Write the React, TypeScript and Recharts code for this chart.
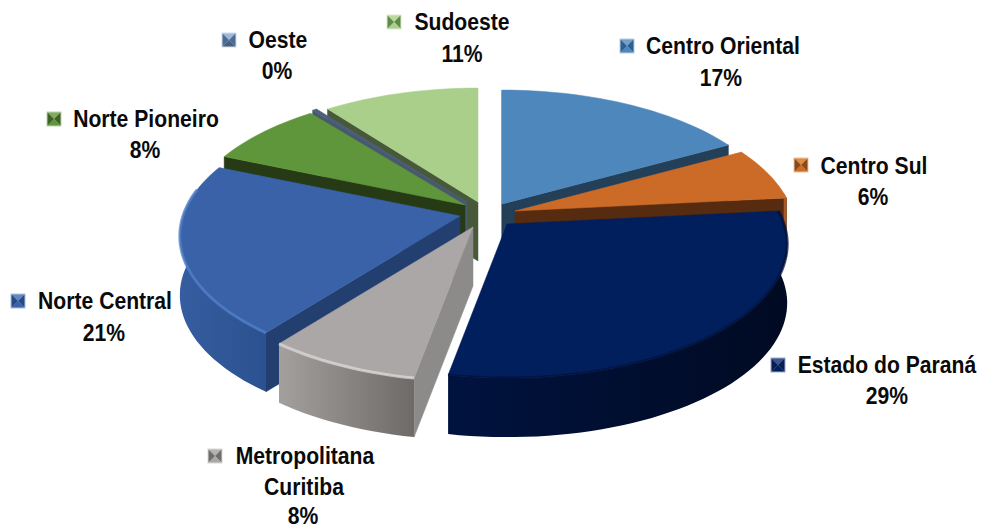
import React from "react";
import { PieChart, Pie } from "recharts";

const names = [
  "Centro Oriental",
  "Centro Sul",
  "Estado do Paraná",
  "Metropolitana Curitiba",
  "Norte Central",
  "Norte Pioneiro",
  "Oeste",
  "Sudoeste",
];
const values = [17, 6.4, 29.5, 7.7, 20.8, 7.9, 0.3, 10.4];
const percentLabels = ["17%", "6%", "29%", "8%", "21%", "8%", "0%", "11%"];

const data = names.map((name, i) => ({ name, value: values[i] }));

// back to front, the slices overlap each other
const drawOrder = [0, 7, 6, 5, 1, 4, 3, 2];

const CX = 490;
const CY = 215;
const RADIUS = 277;
const DEPTH = 59;
const TILT = 0.473;
const PERSPECTIVE = 0.15;

// explode offset of every slice tip from the pie centre
const explode = [
  [12, -11],
  [25, -4],
  [17, 9],
  [-17, 12],
  [-30, 1],
  [-25, -10],
  [-23, -13],
  [-12, -13],
];

const topColors = ["#4d87bb", "#cc6b27", "#011e5d", "#aba7a6", "#3a62a8", "#5f963b", "#4a6078", "#a9cf8b"];
const cutColors = ["#243f58", "#562b0f", "#01143f", "#8c8b8a", "#233f70", "#263a15", "#47586f", "#48593a"];
const wallFrom = ["#3f6f9a", "#a85820", "#00133f", "#a3a09e", "#355da0", "#4d7a30", "#3d5063", "#8aa971"];
const wallTo = ["#3f6f9a", "#a85820", "#000a22", "#6e6a68", "#2c5190", "#4d7a30", "#3d5063", "#8aa971"];
const rimColors = ["none", "none", "#01113a", "#dcdad8", "#4f7fc8", "none", "none", "none"];
const keyTop = ["#6f9fca", "#e08a45", "#3a5590", "#b5b3b2", "#6386c2", "#7faa5f", "#9db9d8", "#b8d8a0"];
const keySide = ["#2f5f8c", "#8a4a18", "#071f55", "#6f6d6c", "#274a85", "#3c6324", "#4a6c94", "#5e8a45"];

// legend key position, then centre x and centre y of each text line
const labelLayout = [
  { key: [627, 46], lines: [[723, 46], [721, 78]] },
  { key: [801, 165], lines: [[874, 166], [873, 197]] },
  { key: [778, 365], lines: [[887, 365], [887, 396]] },
  { key: [215, 456], lines: [[305, 456], [304, 487], [303, 516]] },
  { key: [18, 301], lines: [[105, 301], [104, 333]] },
  { key: [54, 119], lines: [[146, 119], [145, 150]] },
  { key: [229, 40], lines: [[278, 40], [277, 71]] },
  { key: [394, 22], lines: [[462, 22], [462, 54]] },
];

function project(ox: number, oy: number, deg: number) {
  const rad = (deg * Math.PI) / 180;
  const u = Math.sin(rad);
  const v = -Math.cos(rad);
  const p = 1 / (1 - v * PERSPECTIVE);
  return [ox + RADIUS * u * p, oy + RADIUS * TILT * v * p];
}

function arcPoints(ox: number, oy: number, from: number, to: number) {
  const pts: number[][] = [];
  const steps = Math.max(2, Math.ceil((to - from) / 2));
  for (let i = 0; i <= steps; i++) {
    pts.push(project(ox, oy, from + ((to - from) * i) / steps));
  }
  return pts;
}

const toPath = (pts: number[][]) =>
  pts.map((p, i) => `${i ? "L" : "M"}${p[0].toFixed(1)},${p[1].toFixed(1)}`).join("");

function cutFace(tip: number[], rim: number[], inner: number[], color: string) {
  const ex = rim[0] - tip[0];
  const ey = rim[1] - tip[1];
  // the extruded side shows only when "down" leads away from the slice
  const down = ex * DEPTH;
  const side = ex * (inner[1] - tip[1]) - ey * (inner[0] - tip[0]);
  if (down * side > 0) return null;
  const d = toPath([tip, rim, [rim[0], rim[1] + DEPTH], [tip[0], tip[1] + DEPTH]]) + "Z";
  return <path d={d} fill={color} stroke={color} strokeWidth={0.5} />;
}

function Slice3D(props: any) {
  const i = names.indexOf(props.name);
  const from = 90 - props.startAngle;
  const to = 90 - props.endAngle;
  const ox = props.cx + explode[i][0];
  const oy = props.cy + explode[i][1];
  const tip = [ox, oy];
  const rim = arcPoints(ox, oy, from, to);
  const mid = project(ox, oy, (from + to) / 2);

  const wallStart = Math.max(from, 82);
  const wallEnd = Math.min(to, 282);
  const wall = wallStart < wallEnd ? arcPoints(ox, oy, wallStart, wallEnd) : null;
  const gradId = `wall-${i}`;

  return (
    <g>
      <defs>
        <linearGradient id={gradId} x1="0" y1="0" x2="1" y2="0">
          <stop offset="0" stopColor={wallFrom[i]} />
          <stop offset="1" stopColor={wallTo[i]} />
        </linearGradient>
      </defs>
      {cutFace(tip, rim[0], mid, cutColors[i])}
      {cutFace(tip, rim[rim.length - 1], mid, cutColors[i])}
      {wall && (
        <path
          d={
            toPath([
              ...wall,
              ...wall.slice().reverse().map((p) => [p[0], p[1] + DEPTH]),
            ]) + "Z"
          }
          fill={`url(#${gradId})`}
        />
      )}
      <path d={toPath([tip, ...rim]) + "Z"} fill={topColors[i]} stroke={topColors[i]} strokeWidth={0.5} />
      {wall && rimColors[i] !== "none" && (
        <path d={toPath(wall)} fill="none" stroke={rimColors[i]} strokeWidth={3} strokeOpacity={0.75} />
      )}
    </g>
  );
}

function LegendKey({ x, y, i }: { x: number; y: number; i: number }) {
  const s = 6.5;
  const c = [x, y];
  const corners = [
    [x - s, y - s],
    [x + s, y - s],
    [x + s, y + s],
    [x - s, y + s],
  ];
  const tri = (a: number, b: number) => toPath([corners[a], corners[b], c]) + "Z";
  return (
    <g>
      <rect x={x - s - 1} y={y - s - 1} width={2 * s + 2} height={2 * s + 2} fill={keyTop[i]} fillOpacity={0.5} />
      <path d={tri(0, 1)} fill={keyTop[i]} />
      <path d={tri(1, 2)} fill={keySide[i]} />
      <path d={tri(2, 3)} fill={topColors[i]} />
      <path d={tri(3, 0)} fill={keySide[i]} />
    </g>
  );
}

function SliceLabel(props: any) {
  const i = names.indexOf(props.name);
  const layout = labelLayout[i];
  const texts = i === 3 ? ["Metropolitana", "Curitiba", percentLabels[i]] : [names[i], percentLabels[i]];
  return (
    <g>
      <LegendKey x={layout.key[0]} y={layout.key[1]} i={i} />
      {texts.map((t, k) => (
        <text
          key={t}
          transform={`translate(${layout.lines[k][0]},${layout.lines[k][1] + 8}) scale(0.92,1)`}
          textAnchor="middle"
          fontFamily="Liberation Sans"
          fontWeight="bold"
          fontSize={23}
          fill="#0a0a0a"
        >
          {t}
        </text>
      ))}
    </g>
  );
}

export default function App() {
  return (
    <div style={{ position: "absolute", left: 0, top: 0, width: 986, height: 529 }}>
      <PieChart width={986} height={529} margin={{ top: 0, right: 0, bottom: 0, left: 0 }}>
        {drawOrder.map((sliceIndex, layer) => (
          <Pie
            key={names[sliceIndex]}
            data={data}
            dataKey="value"
            nameKey="name"
            cx={CX}
            cy={CY}
            outerRadius={RADIUS}
            startAngle={90}
            endAngle={-270}
            isAnimationActive={false}
            labelLine={false}
            label={layer === drawOrder.length - 1 ? SliceLabel : false}
            shape={(p: any) => (p.name === names[sliceIndex] ? <Slice3D {...p} /> : <g />)}
          />
        ))}
      </PieChart>
    </div>
  );
}
